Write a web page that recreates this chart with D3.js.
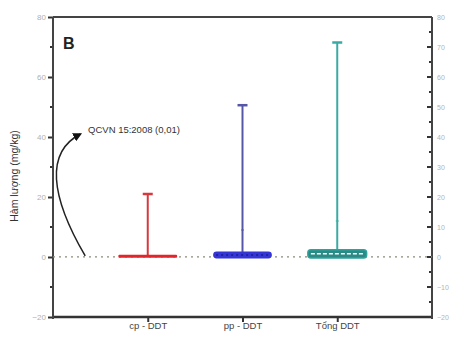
<!DOCTYPE html>
<html><head><meta charset="utf-8">
<script src="https://cdn.jsdelivr.net/npm/d3@7"></script>
<style>body{margin:0;background:#fff}svg{display:block;font-family:Arial,"Liberation Sans",sans-serif}</style>
</head><body><svg id="c" width="451" height="339"></svg>
<script>
const categories = ["cp - DDT", "pp - DDT", "Tổng DDT"];
const minValues = [0, 0, 0];
const boxTop = [0.6, 1.3, 2.1];
const maxValues = [21, 50.6, 71.5];
const meanValues = [3, 9, 12];
const leftTicks = [80, 60, 40, 20, 0, -20];
const rightTicks = [80, 70, 60, 50, 40, 30, 20, 10, 0, -10, -20];
const standardValue = 0.01;
const colors = ["#e3242b", "#3535d6", "#2fa29c"];
const whiskerColors = ["#d8373c", "#5656a8", "#3aaaa5"];

const svg = d3.select("#c");
const m = {l:53, r:432, t:17, b:317};
const x = d3.scaleLinear().domain([0, 4]).range([m.l, m.r]);
const y = d3.scaleLinear().domain([-20, 80]).range([m.b, m.t]);

// left axis
const la = svg.append("g").attr("transform", `translate(${m.l},0)`)
  .call(d3.axisLeft(y).tickValues(leftTicks).tickSize(5).tickFormat(d3.format("d")));
la.select(".domain").remove();
la.selectAll(".tick line").attr("stroke", "#333").attr("stroke-width", 2);
la.selectAll(".tick text").attr("fill", "#b0b0b0").attr("font-size", 8).attr("x", -7);
svg.append("g").selectAll("line").data(d3.range(-10, 80, 20)).join("line")
  .attr("x1", m.l - 3).attr("x2", m.l).attr("y1", d => y(d)).attr("y2", d => y(d))
  .attr("stroke", "#333").attr("stroke-width", 2);

// right axis
const ra = svg.append("g").attr("transform", `translate(${m.r},0)`)
  .call(d3.axisRight(y).tickValues(rightTicks).tickSize(0).tickFormat(d3.format("d")));
ra.select(".domain").remove();
ra.selectAll(".tick text").attr("fill", "#b4b4b4").attr("font-size", 7).attr("x", 5);
svg.append("g").selectAll("line").data(d3.range(-20, 81, 5)).join("line")
  .attr("x1", d => m.r - (d % 10 === 0 ? 5 : 3)).attr("x2", m.r)
  .attr("y1", d => y(d)).attr("y2", d => y(d))
  .attr("stroke", "#333").attr("stroke-width", 2);

// bottom axis
const ba = svg.append("g").attr("transform", `translate(0,${m.b})`)
  .call(d3.axisBottom(x).tickValues([1, 2, 3]).tickSize(5).tickFormat(d => categories[d - 1]));
ba.select(".domain").remove();
ba.selectAll(".tick line").attr("stroke", "#333").attr("stroke-width", 2);
ba.selectAll(".tick text").attr("fill", "#444").attr("font-size", 9.5).attr("y", 5);

// frame
svg.append("line").attr("x1", m.l).attr("x2", m.r).attr("y1", m.t).attr("y2", m.t).attr("stroke", "#444").attr("stroke-width", 2);
svg.append("line").attr("x1", m.l).attr("x2", m.r).attr("y1", m.b).attr("y2", m.b).attr("stroke", "#333").attr("stroke-width", 2.5);
svg.append("line").attr("x1", m.l).attr("x2", m.l).attr("y1", m.t).attr("y2", m.b + 2).attr("stroke", "#444").attr("stroke-width", 2);
svg.append("line").attr("x1", m.r).attr("x2", m.r).attr("y1", m.t).attr("y2", m.b + 2).attr("stroke", "#444").attr("stroke-width", 2);

// reference dotted line
svg.append("line").attr("x1", m.l).attr("x2", m.r).attr("y1", y(standardValue)).attr("y2", y(standardValue))
  .attr("stroke", "#8a8a7a").attr("stroke-width", 1.3).attr("stroke-dasharray", "2,4");

// boxes
const bw = 0.31;
categories.forEach((c, i) => {
  const cx = x(i + 1);
  const g = svg.append("g");
  g.append("line").attr("x1", cx).attr("x2", cx).attr("y1", y(boxTop[i])).attr("y2", y(maxValues[i]))
    .attr("stroke", whiskerColors[i]).attr("stroke-width", 2);
  g.append("line").attr("x1", cx - 5).attr("x2", cx + 5).attr("y1", y(maxValues[i])).attr("y2", y(maxValues[i]))
    .attr("stroke", whiskerColors[i]).attr("stroke-width", 2.5);
  if (i > 0) {
    g.append("line").attr("x1", cx - 1.5).attr("x2", cx + 1.5).attr("y1", y(meanValues[i])).attr("y2", y(meanValues[i]))
      .attr("stroke", whiskerColors[i]).attr("stroke-width", 1.5).attr("opacity", 0.6);
  }
  const x0 = x(i + 1 - bw), x1 = x(i + 1 + bw);
  const y0 = y(boxTop[i]), y1 = y(minValues[i]);
  const h = Math.max(y1 - y0, 2);
  if (i === 0) {
    g.append("rect").attr("x", x0).attr("y", y0 - 0.5).attr("width", x1 - x0).attr("height", h + 1)
      .attr("fill", colors[i]).attr("rx", 1);
  } else if (i === 1) {
    g.append("rect").attr("x", x0).attr("y", y0 - 1.5).attr("width", x1 - x0).attr("height", h + 3)
      .attr("fill", colors[i]).attr("rx", 3.5);
    g.append("line").attr("x1", x0 + 3).attr("x2", x1 - 3).attr("y1", (y0 + y1) / 2).attr("y2", (y0 + y1) / 2)
      .attr("stroke", "#1a1a90").attr("stroke-width", 1.5).attr("stroke-dasharray", "2,3");
  } else {
    g.append("rect").attr("x", x0).attr("y", y0 - 1).attr("width", x1 - x0).attr("height", h + 2)
      .attr("fill", "#2a8a85").attr("stroke", colors[i]).attr("stroke-width", 1.5).attr("rx", 3);
    g.append("line").attr("x1", x0 + 3).attr("x2", x1 - 3).attr("y1", (y0 + y1) / 2).attr("y2", (y0 + y1) / 2)
      .attr("stroke", "#fff").attr("stroke-width", 1.5).attr("stroke-dasharray", "4,2");
  }
});

// annotation
svg.append("defs").append("marker").attr("id", "ah").attr("viewBox", "0 0 10 10").attr("refX", 8).attr("refY", 5)
  .attr("markerWidth", 6).attr("markerHeight", 6).attr("orient", "auto")
  .append("path").attr("d", "M0,0 L10,5 L0,10 z").attr("fill", "#111");
const ax0 = x(0.34), ay0 = y(standardValue) - 1;
svg.append("path")
  .attr("d", `M${ax0},${ay0} C${ax0 - 35},${ay0 - 60} ${ax0 - 40},${y(40) + 15} ${x(0.29)},${y(41)}`)
  .attr("fill", "none").attr("stroke", "#222").attr("stroke-width", 1.5).attr("marker-end", "url(#ah)");
svg.append("text").attr("x", x(0.37)).attr("y", y(41.5)).attr("font-size", 9.5).attr("fill", "#333")
  .text("QCVN 15:2008 (0,01)");

svg.append("text").attr("x", 63).attr("y", 49).attr("font-size", 16).attr("font-weight", "bold").attr("fill", "#222").text("B");

svg.append("text").attr("transform", `translate(18,176) rotate(-90)`).attr("text-anchor", "middle")
  .attr("font-size", 10.5).attr("fill", "#333").text("Hàm lượng (mg/kg)");
</script></body></html>
